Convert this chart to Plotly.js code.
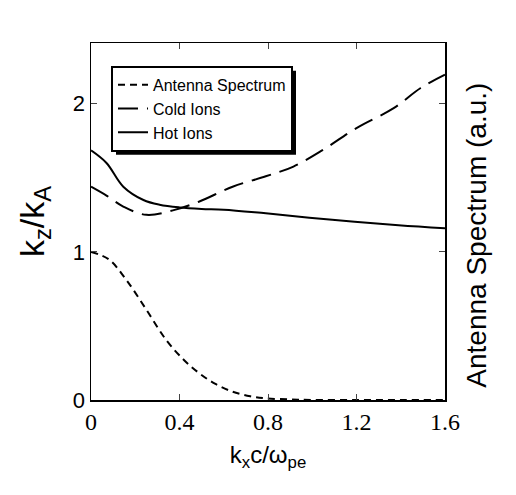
<!DOCTYPE html>
<html><head><meta charset="utf-8">
<script src="https://cdn.plot.ly/plotly-3.0.1.min.js"></script>
<style>body{margin:0;background:#fff}#chart{width:516px;height:495px}</style>
</head><body><div id="chart"></div>
<script>
const antennaX = [0, 0.08, 0.16, 0.25, 0.34, 0.42, 0.49, 0.56, 0.64, 0.72, 0.79, 0.9, 1.0, 1.2, 1.4, 1.6];
const antennaY = [1.0, 0.95, 0.81, 0.61, 0.405, 0.27, 0.18, 0.11, 0.056, 0.025, 0.011, 0.004, 0.0, 0.0, 0.0, 0.0];
const coldX = [0, 0.07, 0.146, 0.25, 0.37, 0.49, 0.64, 0.79, 0.915, 1.05, 1.2, 1.368, 1.49, 1.6];
const coldY = [1.44, 1.38, 1.306, 1.25, 1.28, 1.34, 1.44, 1.51, 1.576, 1.69, 1.836, 1.97, 2.106, 2.196];
const hotX = [0, 0.07, 0.146, 0.237, 0.31, 0.4, 0.5, 0.6, 0.79, 1.09, 1.39, 1.6];
const hotY = [1.685, 1.60, 1.44, 1.35, 1.318, 1.30, 1.29, 1.285, 1.26, 1.216, 1.18, 1.16];
const seriesNames = ["Antenna Spectrum", "Cold Ions", "Hot Ions"];
const xTicks = [0, 0.4, 0.8, 1.2, 1.6];
const xTickText = ["0", "0.4", "0.8", "1.2", "1.6"];
const yTicks = [0, 1, 2];

const traces = [
  {x: antennaX, y: antennaY, name: seriesNames[0], mode: "lines", line: {color: "#000", width: 2, dash: "7px,5px", shape: "spline"}},
  {x: coldX, y: coldY, name: seriesNames[1], mode: "lines", line: {color: "#000", width: 2, dash: "20px,9px", shape: "spline"}},
  {x: hotX, y: hotY, name: seriesNames[2], mode: "lines", line: {color: "#000", width: 2, shape: "spline"}}
];

const layout = {
  width: 516, height: 495,
  margin: {l: 91, r: 71, t: 43, b: 95},
  paper_bgcolor: "#fff", plot_bgcolor: "#fff",
  showlegend: true,
  legend: {x: 0.0565, y: 0.936, xanchor: "left", yanchor: "top", bgcolor: "#fff",
    bordercolor: "#000", borderwidth: 2, font: {family: "Liberation Sans, Arial", size: 16, color: "#000"},
    tracegroupgap: 0, itemwidth: 30},
  xaxis: {range: [0, 1.6], tickvals: xTicks, ticktext: xTickText, ticks: "inside", ticklen: 6,
    showline: true, linecolor: "#000", linewidth: 1.5, mirror: "ticks", showgrid: false, zeroline: false,
    tickfont: {family: "Liberation Serif, Times New Roman", size: 24, color: "#000"},
    title: {text: "k<sub>x</sub>c/ω<sub>pe</sub>", font: {family: "Liberation Sans, Arial", size: 24, color: "#000"}, standoff: 12}},
  yaxis: {range: [0, 2.41], tickvals: yTicks, ticks: "inside", ticklen: 6,
    showline: true, linecolor: "#000", linewidth: 1.5, mirror: "ticks", showgrid: false, zeroline: false,
    tickfont: {family: "Liberation Sans, Arial", size: 22, color: "#000"},
    title: {text: "k<sub>z</sub>/k<sub>A</sub>", font: {family: "Liberation Sans, Arial", size: 34, color: "#000"}, standoff: 18}},
  annotations: [
    {text: "Antenna Spectrum (a.u.)", xref: "paper", yref: "paper", x: 1.136, y: 0.462,
      textangle: -90, showarrow: false, font: {family: "Liberation Sans, Arial", size: 28, color: "#000"}}
  ]
};
const gd = document.getElementById("chart");
Plotly.newPlot(gd, traces, layout, {displayModeBar: false, staticPlot: true}).then(function () {
  const bg = gd.querySelector(".legend rect.bg");
  if (!bg) return;
  const r = bg.getBoundingClientRect();
  const c = gd.getBoundingClientRect();
  const s = gd._fullLayout._size;
  const px = function (v) { return (v - c.left - s.l) / s.w; };
  const py = function (v) { return 1 - (v - c.top - s.t) / s.h; };
  const off = 4;
  return Plotly.relayout(gd, {shapes: [{type: "rect", xref: "paper", yref: "paper",
    x0: px(r.left + off), x1: px(r.right + off), y0: py(r.bottom + off), y1: py(r.top + off),
    fillcolor: "#000", line: {width: 0}, layer: "above"}]});
});
</script></body></html>
